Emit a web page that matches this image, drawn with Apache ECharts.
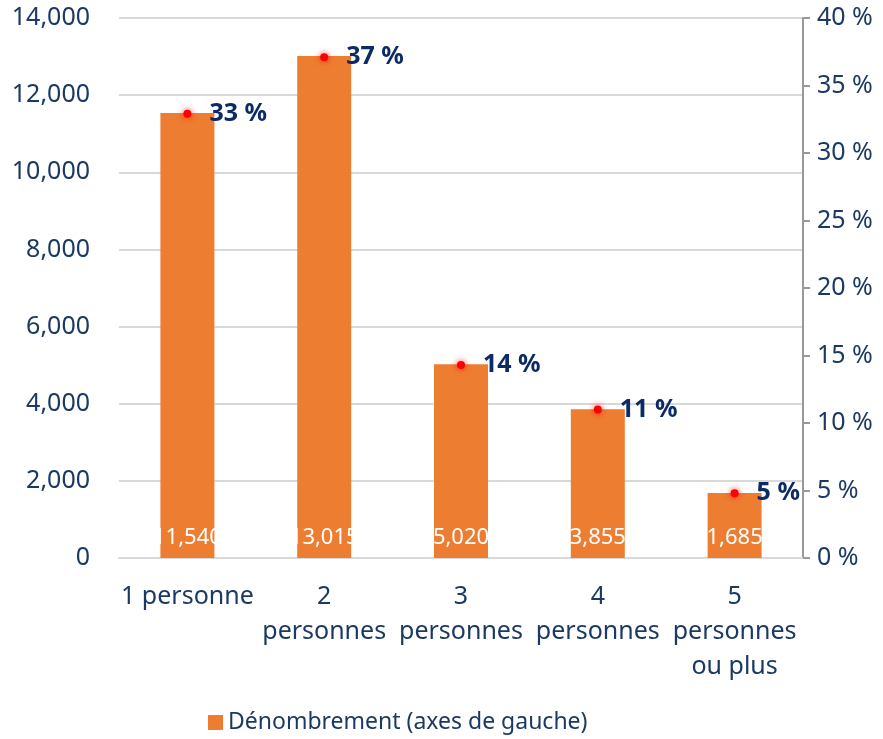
<!DOCTYPE html>
<html>
<head>
<meta charset="utf-8">
<script src="https://cdn.jsdelivr.net/npm/echarts@6/dist/echarts.min.js"></script>
<style>
  html, body { margin: 0; padding: 0; background: #fff; }
  #chart { width: 883px; height: 739px; }
</style>
</head>
<body>
<div id="chart"></div>
<script>
// données
const categories = ['1 personne', '2\npersonnes', '3\npersonnes', '4\npersonnes', '5\npersonnes\nou plus'];
const counts = [11540, 13015, 5020, 3855, 1685];
const shares = [32.9, 37.1, 14.3, 11.0, 4.8];
const leftTicks = [0, 14000, 2000];
const rightTicks = [0, 40, 5];

const navy = '#1B3A63';
const font = 'Noto Sans';

const chart = echarts.init(document.getElementById('chart'));

const option = {
  backgroundColor: '#fff',
  animation: false,
  textStyle: { fontFamily: font },
  grid: { left: 119, right: 80, top: 18, bottom: 181 },
  legend: {
    bottom: 0,
    left: 203,
    data: ['Dénombrement (axes de gauche)'],
    icon: 'rect',
    itemWidth: 15,
    itemHeight: 15,
    itemGap: 6,
    textStyle: { color: navy, fontSize: 23, fontFamily: font }
  },
  xAxis: {
    type: 'category',
    data: categories,
    axisLine: { lineStyle: { color: '#d9d9d9', width: 2 } },
    axisTick: { show: false },
    axisLabel: { color: navy, fontSize: 25, lineHeight: 35, margin: 21, interval: 0 }
  },
  yAxis: [
    {
      type: 'value',
      min: leftTicks[0],
      max: leftTicks[1],
      interval: leftTicks[2],
      axisLine: { show: false },
      axisTick: { show: false },
      splitLine: { lineStyle: { color: '#d9d9d9', width: 2 } },
      axisLabel: {
        color: navy, fontSize: 25, margin: 29,
        formatter: v => v.toLocaleString('en-US')
      }
    },
    {
      type: 'value',
      position: 'right',
      min: rightTicks[0],
      max: rightTicks[1],
      interval: rightTicks[2],
      axisLine: { show: true, lineStyle: { color: '#999', width: 2 } },
      axisTick: { show: true, length: 7, lineStyle: { color: '#999', width: 2 } },
      splitLine: { show: false },
      axisLabel: { color: navy, fontSize: 25, margin: 14, formatter: '{value} %' }
    }
  ],
  series: [
    {
      name: 'Dénombrement (axes de gauche)',
      type: 'bar',
      data: counts,
      barWidth: 54,
      itemStyle: { color: '#ED7D31' },
      label: {
        show: true,
        position: 'insideBottom',
        distance: 9,
        color: '#fff',
        fontSize: 22,
        formatter: p => p.value.toLocaleString('en-US')
      }
    },
    {
      name: 'Part',
      type: 'line',
      yAxisIndex: 1,
      data: shares,
      lineStyle: { width: 0, opacity: 0 },
      symbol: 'circle',
      symbolSize: 8,
      itemStyle: { color: '#ff0000', shadowColor: 'rgba(255,0,0,0.8)', shadowBlur: 6 },
      label: {
        show: true,
        position: 'right',
        distance: 18,
        color: '#0B2A66',
        fontWeight: 'bold',
        fontSize: 25,
        formatter: p => Math.round(p.value) + ' %'
      },
      z: 5
    }
  ]
};

chart.setOption(option);
</script>
</body>
</html>
